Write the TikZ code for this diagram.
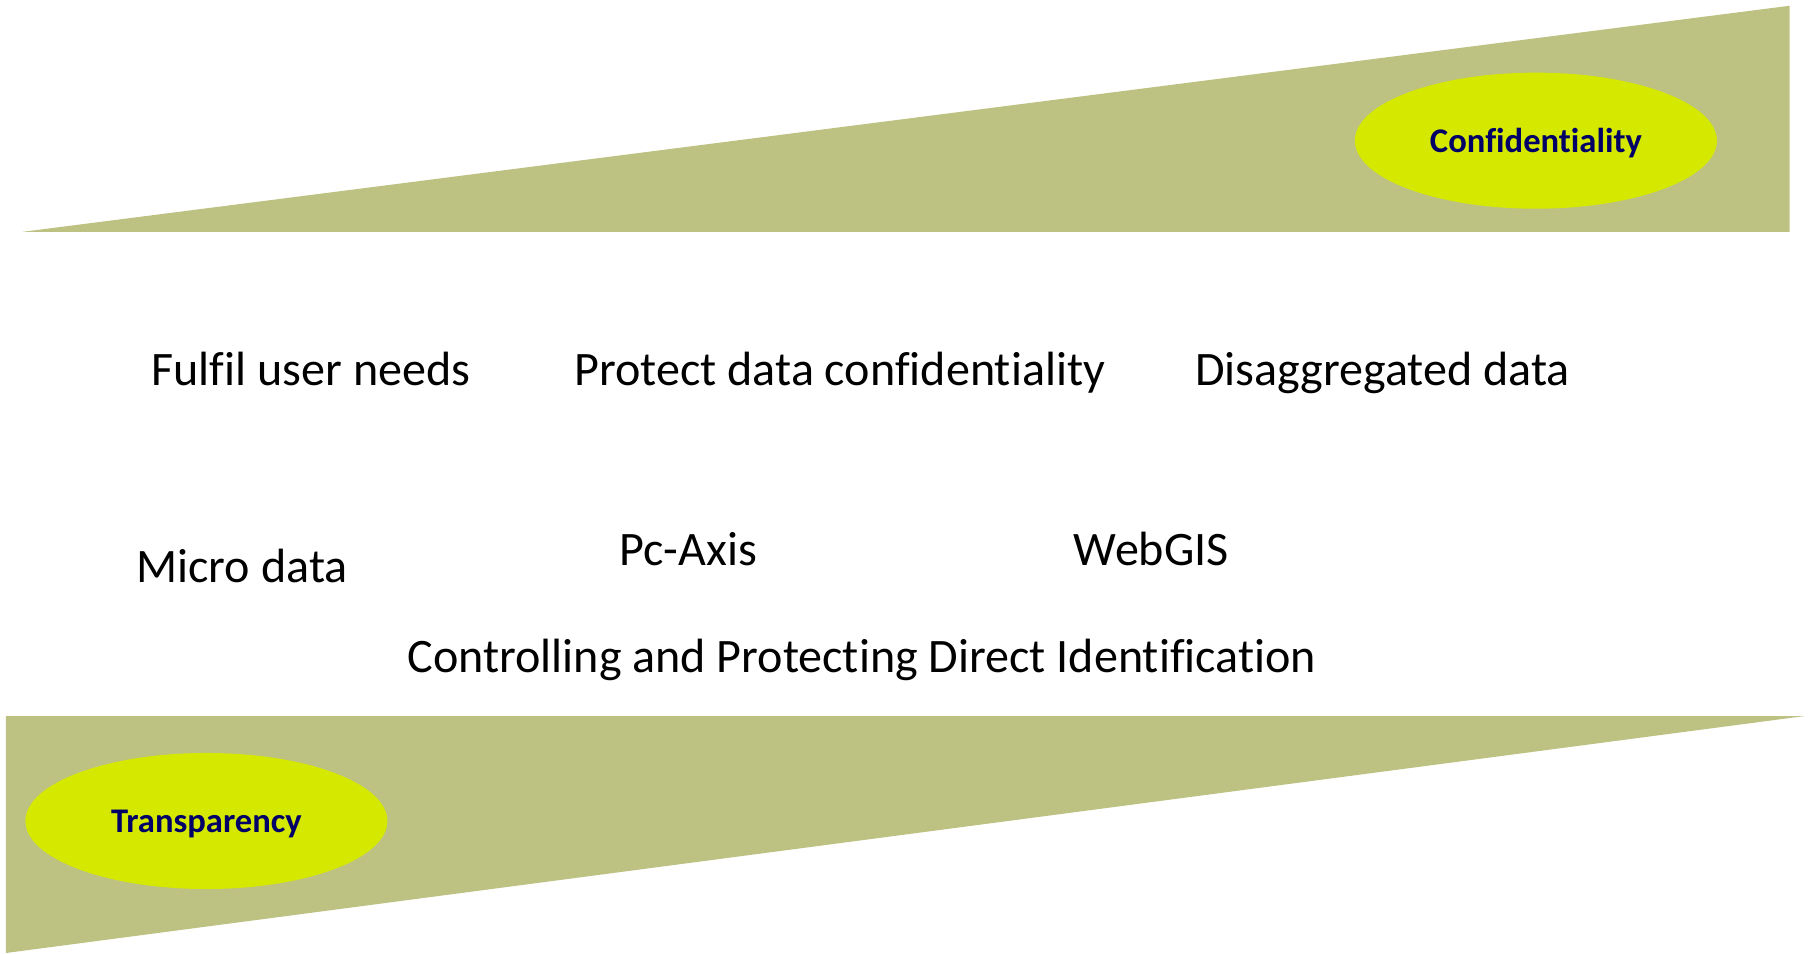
\documentclass[tikz,border=0pt]{standalone}
\usepackage{fontspec}
\setmainfont{Carlito}[Ligatures = NoCommon]
\usepackage{tikz}
\usetikzlibrary{positioning}
\usetikzlibrary{shapes.geometric}

\definecolor{wedgeolive}{RGB}{189,194,131}
\definecolor{ovallime}{RGB}{212,232,0}
\definecolor{ovaltext}{RGB}{0,0,102}

\tikzset{
	label text/.style = {inner sep = 0pt, anchor = base west, font = \fontsize{20.85pt}{24pt}\selectfont},
	oval/.style = {ellipse, fill = ovallime, inner sep = 0pt, text depth = 0pt, minimum width = 157pt, minimum height = 59pt, text = ovaltext, font = \fontsize{15pt}{18pt}\selectfont\bfseries}
}

\begin{document}
\begin{tikzpicture}[x = 0.5pt, y = -0.5pt]
		\useasboundingbox (0,0) rectangle (1568,826.5);
		% wedges
		\fill[wedgeolive] (20,201) -- (1552,5) -- (1552,201) -- cycle;
		\fill[wedgeolive] (5,621) -- (1565,621) -- (5,826.5) -- cycle;
		% ovals
		\node[oval] at (1332,122) (conf) {Confidentiality};
		\node[oval] at (179,712) (transp) {Transparency};
		% texts
		\node[label text] at (131,334) (fulfil) {Fulfil user needs};
		\node[label text] at (498,334) (protect) {Protect data confidentiality};
		\node[label text] at (1036,334) (disagg) {Disaggregated data};
		\node[label text] at (118,505) (micro) {Micro data};
		\node[label text] at (537,490) (pcaxis) {Pc-Axis};
		\node[label text] at (931,490) (webgis) {WebGIS};
		\node[label text] at (353,583) (control) {Controlling and Protecting Direct Identification};
	\end{tikzpicture}
\end{document}
